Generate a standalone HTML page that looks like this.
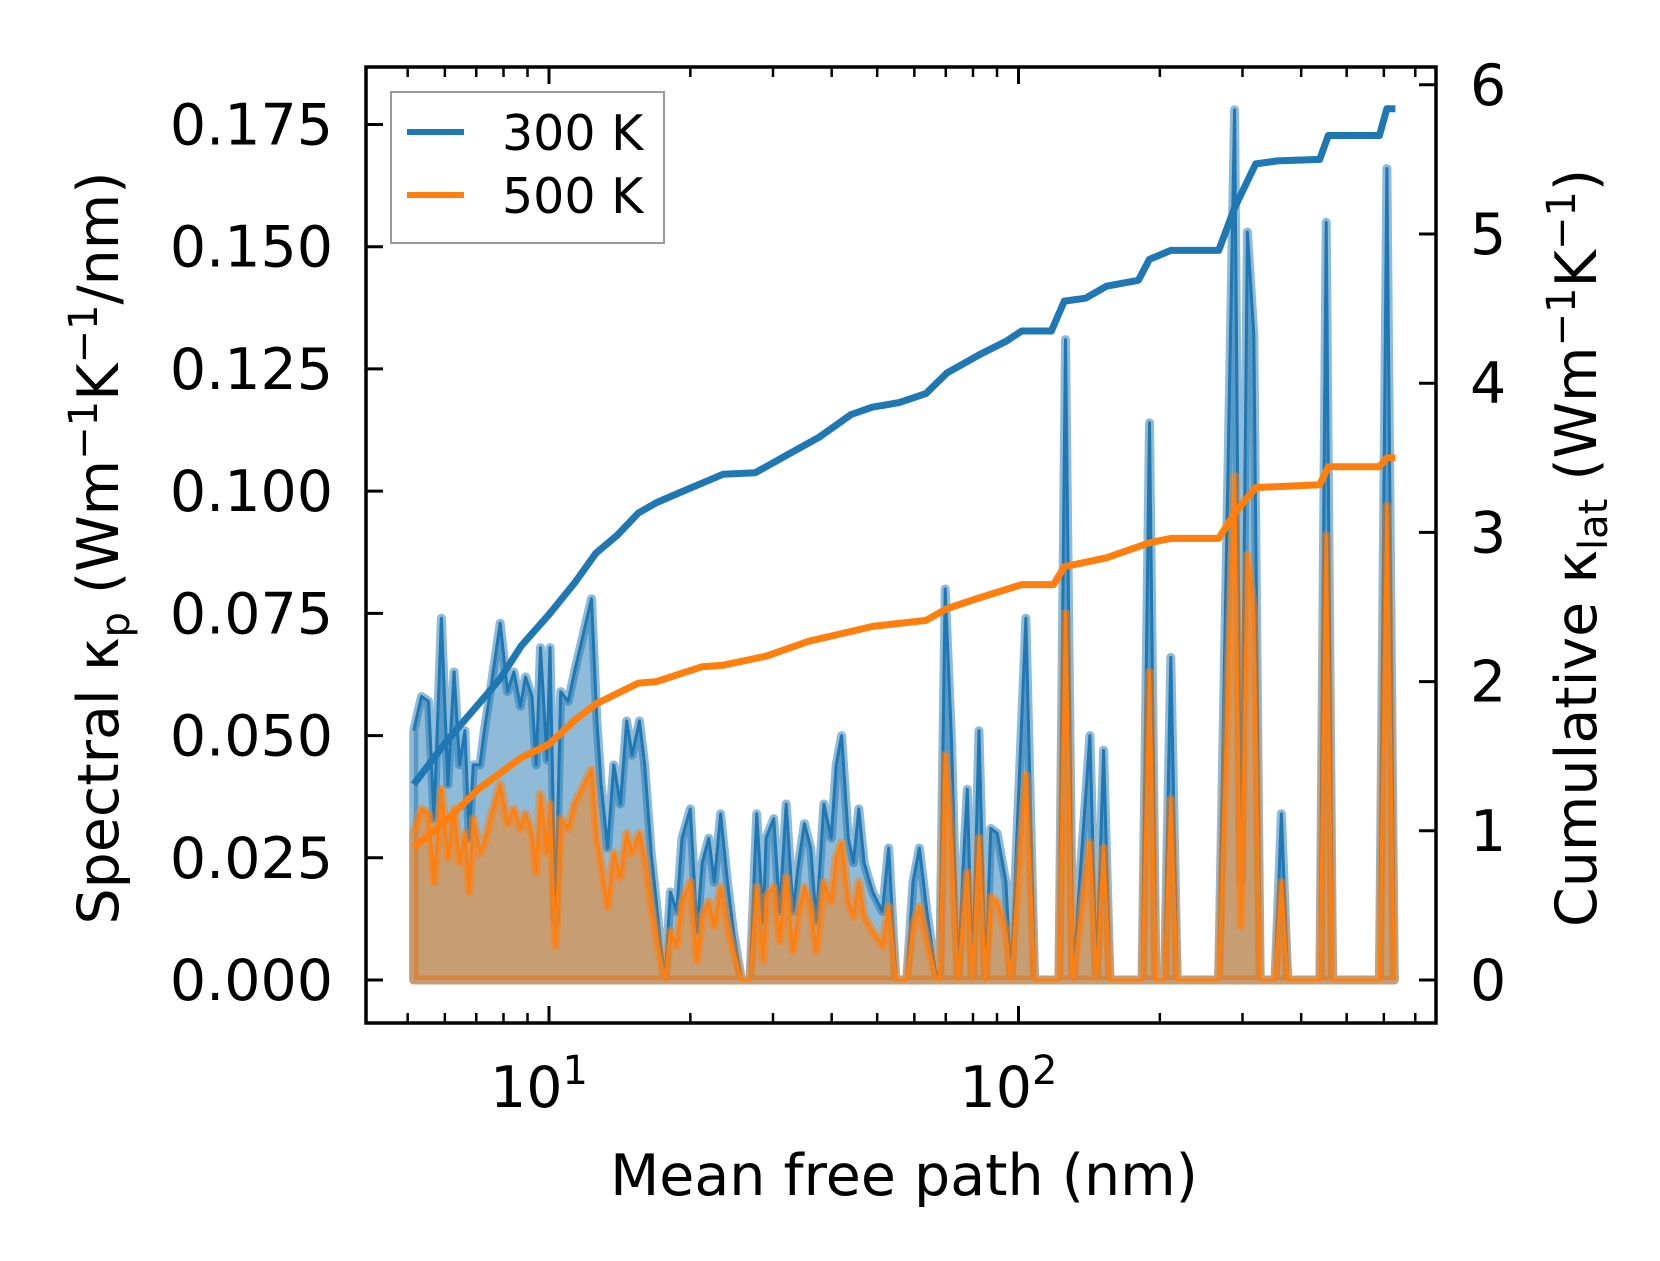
<!DOCTYPE html>
<html><head><meta charset="utf-8">
<style>
html,body{margin:0;padding:0;background:#fff;}
svg{display:block;font-family:"DejaVu Sans","Liberation Sans",sans-serif;}
</style></head>
<body>
<svg id="chart" width="1660" height="1261" viewBox="0 0 1660 1261" xmlns="http://www.w3.org/2000/svg">
<rect width="1660" height="1261" fill="#fff"/>
<g id="plot"></g>
<g id="axes"></g>
<text x="904" y="1195" font-size="57" text-anchor="middle">Mean free path (nm)</text>
<text transform="translate(118,548) rotate(-90)" font-size="57" text-anchor="middle">Spectral κ<tspan font-size="40" dy="11">p</tspan><tspan dy="-11"> (Wm</tspan><tspan font-size="40" dy="-21">−1</tspan><tspan dy="21">K</tspan><tspan font-size="40" dy="-21">−1</tspan><tspan dy="21">/nm)</tspan></text>
<text transform="translate(1596,548) rotate(-90)" font-size="57" text-anchor="middle">Cumulative κ<tspan font-size="40" dy="11">lat</tspan><tspan dy="-11"> (Wm</tspan><tspan font-size="40" dy="-21">−1</tspan><tspan dy="21">K</tspan><tspan font-size="40" dy="-21">−1</tspan><tspan dy="21">)</tspan></text>
<g>
<rect x="391" y="92" width="273" height="151" fill="#fff" stroke="#999" stroke-width="2"/>
<line x1="407" y1="132" x2="464" y2="132" stroke="#1f77b4" stroke-width="6"/>
<text x="502" y="150" font-size="49">300 K</text>
<line x1="407" y1="195" x2="464" y2="195" stroke="#ff7f0e" stroke-width="6"/>
<text x="502" y="213" font-size="49">500 K</text>
</g>
</svg>
<script>
const mfp=[5.15,5.35,5.54,5.69,5.90,6.09,6.28,6.45,6.62,6.76,6.90,7.13,7.28,7.50,7.87,8.16,8.42,8.69,8.91,9.20,9.39,9.59,9.90,10.05,10.32,10.59,10.99,11.33,12.32,12.65,12.91,13.33,13.74,14.19,14.64,15.03,15.58,15.99,16.51,17.22,17.66,18.14,18.71,19.20,20.0,20.66,21.2,21.9,22.5,23.2,24.0,24.7,25.7,26.8,27.7,28.6,29.0,30.1,31.0,32.0,33.1,33.9,35.0,36.1,37.1,38.5,39.9,40.9,42.0,43.4,44.5,45.7,46.9,48.9,51.3,52.9,54.8,57.8,59.6,61.5,63.8,66.5,67.9,69.8,72.0,74.3,76.2,77.8,79.8,82.4,85.0,87.3,90.1,94.0,96.4,103.7,108.2,121.9,125.9,130.5,141.9,146.5,151.8,156.6,183.3,190.1,196.2,204.6,211.0,217.8,266.8,288.6,297.7,307.3,317.1,327.2,351.8,363.0,374.7,438.5,452.3,466.7,587.0,609.2,631.5];
const spec300=[0.051,0.058,0.057,0.033,0.074,0.040,0.063,0.044,0.051,0.029,0.044,0.044,0.051,0.059,0.073,0.059,0.063,0.056,0.062,0.058,0.044,0.068,0.045,0.068,0.012,0.059,0.057,0.063,0.078,0.053,0.040,0.027,0.044,0.036,0.053,0.046,0.053,0.044,0.026,0.009,0.0,0.018,0.014,0.029,0.035,0.010,0.024,0.029,0.020,0.034,0.020,0.010,0.0,0.0,0.034,0.012,0.029,0.033,0.014,0.036,0.014,0.023,0.032,0.027,0.012,0.036,0.029,0.044,0.050,0.029,0.024,0.035,0.024,0.018,0.014,0.027,0.0,0.0,0.020,0.027,0.014,0.002,0.0,0.080,0.049,0.0,0.023,0.039,0.0,0.051,0.0,0.031,0.030,0.020,0.0,0.074,0.0,0.0,0.131,0.0,0.050,0.0,0.047,0.0,0.0,0.114,0.0,0.0,0.066,0.0,0.0,0.178,0.02,0.153,0.132,0.0,0.0,0.034,0.0,0.0,0.155,0.0,0.0,0.166,0.0];
const spec500=[0.030,0.035,0.034,0.020,0.039,0.025,0.035,0.024,0.030,0.018,0.033,0.026,0.028,0.033,0.040,0.032,0.035,0.031,0.034,0.030,0.022,0.038,0.026,0.036,0.007,0.033,0.031,0.036,0.043,0.029,0.024,0.015,0.026,0.021,0.030,0.026,0.030,0.025,0.015,0.005,0.0,0.010,0.007,0.016,0.020,0.004,0.013,0.016,0.011,0.019,0.011,0.006,0.0,0.0,0.019,0.004,0.017,0.019,0.008,0.021,0.006,0.013,0.019,0.015,0.006,0.020,0.016,0.025,0.028,0.016,0.013,0.020,0.013,0.010,0.007,0.015,0.0,0.0,0.011,0.015,0.008,0.001,0.0,0.046,0.028,0.0,0.013,0.022,0.0,0.029,0.0,0.017,0.016,0.010,0.0,0.042,0.0,0.0,0.075,0.0,0.028,0.0,0.027,0.0,0.0,0.063,0.0,0.0,0.037,0.0,0.0,0.103,0.011,0.087,0.075,0.0,0.0,0.020,0.0,0.0,0.091,0.0,0.0,0.097,0.0];
const cumX300=[5.15,6.05,7.08,7.87,8.73,10,11.33,12.58,13.96,15.50,16.94,19.10,23.5,27.5,32.2,37.7,44.0,48.9,55.7,63.5,70.5,82.4,94.0,101.6,117.5,125.2,139,154,180,190,211,267,289,320,356,438,457,587,609,635];
const cum300=[1.31,1.60,1.85,2.02,2.24,2.45,2.66,2.86,2.98,3.13,3.20,3.27,3.39,3.40,3.52,3.64,3.79,3.84,3.87,3.93,4.07,4.19,4.28,4.35,4.35,4.55,4.57,4.65,4.69,4.83,4.89,4.89,5.18,5.47,5.49,5.50,5.66,5.66,5.84,5.84];
const cumX500=[5.15,6.05,7.08,8.73,10,11.33,12.58,15.50,16.94,21.2,23.5,29.0,35.7,41.8,48.9,63.5,70.5,82.4,101.6,118.8,125.2,154,190,211,267,289,320,438,457,587,609,635];
const cum500=[0.89,1.07,1.28,1.49,1.58,1.74,1.85,1.99,2.00,2.10,2.11,2.17,2.27,2.32,2.37,2.41,2.49,2.56,2.65,2.65,2.77,2.83,2.93,2.96,2.96,3.13,3.30,3.32,3.44,3.44,3.50,3.50];
const leftTicks=[0,0.025,0.05,0.075,0.1,0.125,0.15,0.175];
const leftTickLabels=["0.000","0.025","0.050","0.075","0.100","0.125","0.150","0.175"];
const rightTicks=[0,1,2,3,4,5,6];
const xMajor=[10,100];
const xMinor=[5,6,7,8,9,20,30,40,50,60,70,80,90,200,300,400,500,600,700];

const L=366,R=1436,T=67,B=1023;
const X=v=>549+(Math.log10(v)-1)*469.5;
const YL=v=>980-v/0.175*855.5;
const YR=v=>980-v*149.2;
const NS='http://www.w3.org/2000/svg';
const plot=document.getElementById('plot'),axes=document.getElementById('axes');
function mk(tag,attrs,parent){const e=document.createElementNS(NS,tag);for(const k in attrs)e.setAttribute(k,attrs[k]);parent.appendChild(e);return e;}
function linePts(xs,ys,yf){return xs.map((x,i)=>X(x).toFixed(1)+','+yf(ys[i]).toFixed(1)).join(' ');}
function areaPath(xs,ys){let d='M'+X(xs[0]).toFixed(1)+','+YL(0).toFixed(1);xs.forEach((x,i)=>{d+=' L'+X(x).toFixed(1)+','+YL(ys[i]).toFixed(1);});d+=' L'+X(xs[xs.length-1]).toFixed(1)+','+YL(0).toFixed(1)+' Z';return d;}

let e;
e=mk('path',{d:areaPath(mfp,spec300),fill:'rgba(31,119,180,0.5)',stroke:'rgba(31,119,180,0.5)','stroke-width':9,'stroke-linejoin':'round'},plot);


e=mk('polyline',{points:linePts(mfp,spec300,YL),fill:'none',stroke:'#1f77b4','stroke-width':3,'stroke-linejoin':'round'},plot);


e=mk('path',{d:areaPath(mfp,spec500),fill:'rgba(255,127,14,0.5)',stroke:'rgba(255,127,14,0.5)','stroke-width':9,'stroke-linejoin':'round'},plot);


e=mk('polyline',{points:linePts(mfp,spec500,YL),fill:'none',stroke:'#ff7f0e','stroke-width':3,'stroke-linejoin':'round'},plot);


e=mk('polyline',{points:linePts(cumX300,cum300,YR),fill:'none',stroke:'#1f77b4','stroke-width':7,'stroke-linejoin':'round'},plot);


e=mk('polyline',{points:linePts(cumX500,cum500,YR),fill:'none',stroke:'#ff7f0e','stroke-width':7,'stroke-linejoin':'round'},plot);



e=mk('rect',{x:L,y:T,width:R-L,height:B-T,fill:'none',stroke:'#000','stroke-width':3.5},axes);


leftTicks.forEach((v,i)=>{const y=YL(v);
 let t=mk('line',{x1:L,y1:y,x2:L+17,y2:y,stroke:'#000','stroke-width':3},axes);
 
 
 let s=mk('text',{x:333,y:y+20,'font-size':57,'text-anchor':'end'},axes);s.textContent=leftTickLabels[i];
 
 
});
rightTicks.forEach(v=>{const y=YR(v);
 let t=mk('line',{x1:R,y1:y,x2:R-17,y2:y,stroke:'#000','stroke-width':3},axes);
 
 
 let s=mk('text',{x:1470,y:y+20,'font-size':57},axes);s.textContent=String(v);
 
 
});
xMajor.forEach(v=>{const x=X(v);
 [[B,B-17],[T,T+17]].forEach(p=>{let t=mk('line',{x1:x,y1:p[0],x2:x,y2:p[1],stroke:'#000','stroke-width':3},axes);
 
 });
 let s=mk('text',{x:x-10,y:1107,'font-size':57,'text-anchor':'middle'},axes);
 
 
 s.innerHTML='10<tspan font-size="40" dy="-23">'+Math.round(Math.log10(v))+'</tspan>';
});
xMinor.forEach(v=>{const x=X(v);
 [[B,B-10],[T,T+10]].forEach(p=>{let t=mk('line',{x1:x,y1:p[0],x2:x,y2:p[1],stroke:'#000','stroke-width':2.5},axes);
 
 });
});
</script>
</body></html>
